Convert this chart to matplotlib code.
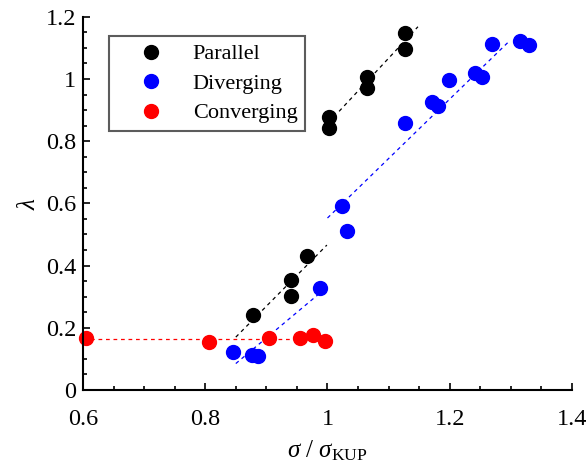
import matplotlib
matplotlib.use("Agg")
import matplotlib.pyplot as plt
import numpy as np
from matplotlib.ticker import MultipleLocator, FuncFormatter

plt.rcParams['font.family'] = ['Liberation Serif', 'DejaVu Serif']
plt.rcParams['mathtext.fontset'] = 'custom'
plt.rcParams['mathtext.rm'] = 'Liberation Serif'
plt.rcParams['mathtext.it'] = 'Liberation Serif:italic'

# Data
par_x = [0.878, 0.940, 0.940, 0.966, 1.002, 1.002, 1.065, 1.065, 1.127, 1.127]
par_y = [0.240, 0.354, 0.303, 0.431, 0.878, 0.843, 1.005, 0.970, 1.149, 1.098]

div_x = [0.845, 0.876, 0.886, 0.987, 1.032, 1.024, 1.127, 1.171, 1.181, 1.198,
         1.242, 1.253, 1.269, 1.315, 1.329]
div_y = [0.121, 0.112, 0.110, 0.327, 0.511, 0.591, 0.859, 0.926, 0.913, 0.996,
         1.018, 1.005, 1.113, 1.122, 1.110]

con_x = [0.605, 0.806, 0.905, 0.955, 0.977, 0.996]
con_y = [0.168, 0.154, 0.167, 0.167, 0.178, 0.156]

# Fit line segments (endpoints)
par_line1_x = [0.850, 0.999]
par_line1_y = [0.170, 0.466]
par_line2_x = [1.019, 1.148]
par_line2_y = [0.896, 1.168]
div_line1_x = [0.850, 1.000]
div_line1_y = [0.085, 0.332]
div_line2_x = [1.000, 1.296]
div_line2_y = [0.553, 1.119]
con_line_x = [0.600, 1.000]
con_line_y = [0.165, 0.165]

fig = plt.figure(figsize=(5.87, 4.73), dpi=100)
ax = fig.add_axes([0.1414, 0.1755, 0.833, 0.789])

dash = dict(lw=0.9, dashes=(3, 3))
ax.plot(par_line1_x, par_line1_y, color='black', **dash)
ax.plot(par_line2_x, par_line2_y, color='black', **dash)
ax.plot(div_line1_x, div_line1_y, color='blue', **dash)
ax.plot(div_line2_x, div_line2_y, color='blue', **dash)
ax.plot(con_line_x, con_line_y, color='red', **dash)

ms = 10
ax.plot(par_x, par_y, 'o', color='black', ms=ms, ls='none', label='Parallel', clip_on=False)
ax.plot(div_x, div_y, 'o', color='blue', ms=ms, ls='none', label='Diverging', clip_on=False)
ax.plot(con_x, con_y, 'o', color='red', ms=ms, ls='none', label='Converging', clip_on=False)

ax.set_xlim(0.6, 1.4)
ax.set_ylim(0, 1.2)
ax.xaxis.set_major_locator(MultipleLocator(0.2))
ax.xaxis.set_minor_locator(MultipleLocator(0.05))
ax.yaxis.set_major_locator(MultipleLocator(0.2))
ax.yaxis.set_minor_locator(MultipleLocator(0.05))
fmt = FuncFormatter(lambda v, p: ('%g' % round(v, 2)))
ax.xaxis.set_major_formatter(fmt)
ax.yaxis.set_major_formatter(fmt)

for s in ['top', 'right']:
    ax.spines[s].set_visible(False)
for s in ['left', 'bottom']:
    ax.spines[s].set_linewidth(1.5)
ax.tick_params(which='both', direction='in', width=1.2, labelsize=17.5, colors='black')
ax.tick_params(which='major', length=5)
ax.tick_params(which='minor', length=3)
ax.tick_params(axis='x', pad=14)
ax.tick_params(axis='y', pad=5)

ax.set_xlabel(r'$\sigma$ / $\sigma_{\mathrm{KUP}}$', fontsize=18, labelpad=6)
ax.set_ylabel(r'$\lambda$', fontsize=18, labelpad=4)

leg = ax.legend(loc='upper left', bbox_to_anchor=(0.03, 0.978), fontsize=16,
                frameon=True, fancybox=False, edgecolor='#333333',
                handletextpad=0.35, borderpad=0.35, labelspacing=0.4,
                handlelength=3.08)
leg.get_frame().set_linewidth(1.5)

fig.savefig('out.png', dpi=100)
